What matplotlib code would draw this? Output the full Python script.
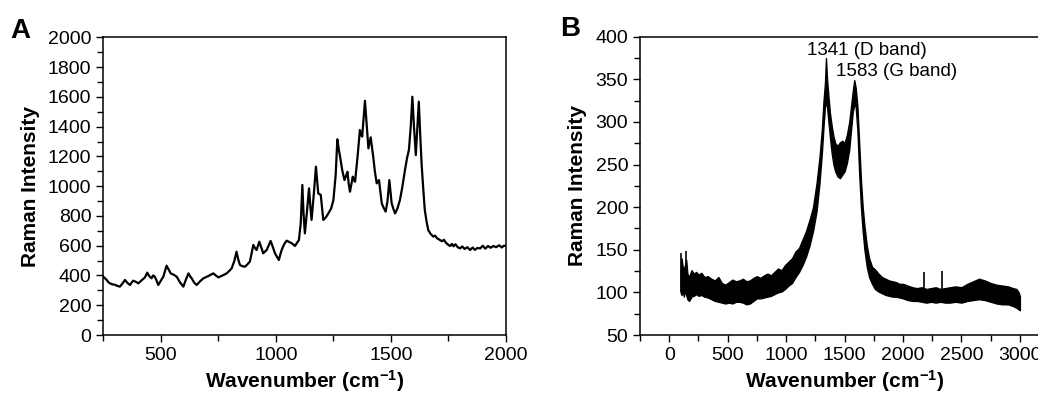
import matplotlib.pyplot as plt
from matplotlib.ticker import MultipleLocator

plt.rcParams['font.family'] = ['Liberation Sans', 'DejaVu Sans']
plt.rcParams['mathtext.fontset'] = 'custom'
plt.rcParams['mathtext.rm'] = 'Liberation Sans'
plt.rcParams['mathtext.bf'] = 'Liberation Sans:bold'

# Panel A: spectrum values
wn_a = [250, 258, 265, 272, 279, 290, 300, 311, 322, 333, 344, 355, 366, 373, 380,
        391, 402, 416, 431, 441, 450, 460, 466, 472, 480, 489, 500, 511,
        525, 534, 543, 556, 569, 584, 598, 609, 620, 627, 634, 645, 656, 670, 685,
        695, 706, 717, 728, 739, 750, 768, 786, 797, 808, 820, 829, 836, 844,
        855, 866, 877, 887, 895, 902, 909, 916, 922, 928, 936, 945, 952, 960, 968, 977,
        987, 996, 1005, 1013, 1019, 1025, 1036, 1047, 1058, 1069, 1076, 1083,
        1092, 1100, 1108, 1115, 1120, 1126, 1135, 1144, 1150, 1155, 1165, 1174, 1184, 1195,
        1206, 1217, 1228, 1240, 1250, 1260, 1267,
        1273, 1279, 1288, 1298, 1305, 1311, 1316, 1322, 1328, 1334, 1339, 1344, 1355, 1365,
        1370, 1375, 1381, 1387, 1395, 1402, 1407, 1412, 1418, 1423,
        1430, 1438, 1443, 1448, 1454, 1460, 1468, 1477, 1485, 1493, 1498, 1503, 1510, 1518,
        1528, 1539, 1550, 1561, 1570, 1578, 1586, 1593, 1600, 1608,
        1614, 1621, 1627, 1633, 1640, 1647, 1655, 1662, 1672, 1684, 1692, 1700, 1706, 1713,
        1722, 1730, 1740, 1750, 1757, 1765, 1772, 1780, 1790, 1800, 1810, 1820, 1832,
        1844, 1855, 1865, 1876, 1888, 1899, 1910, 1922, 1933, 1945, 1957, 1970, 1982, 1990, 2000]
int_a = [392, 380, 370, 355, 347, 340, 338, 330, 325, 345, 370, 350, 336, 352, 365,
         358, 347, 366, 387, 419, 395, 381, 400, 396, 372, 336, 365, 392,
         466, 440, 414, 405, 392, 352, 325, 372, 414, 395, 381, 352, 336, 360, 381,
         388, 396, 405, 414, 400, 387, 400, 414, 430, 448, 500, 560, 510, 470,
         462, 459, 476, 493, 552, 605, 585, 571, 600, 627, 590, 549, 560, 571, 600, 632,
         590, 549, 525, 504, 540, 571, 610, 634, 625, 616, 608, 598,
         620, 638, 750, 1008, 820, 683, 830, 985, 860, 773, 950, 1131, 952, 941,
         773, 790, 817, 850, 907, 1080, 1315,
         1250, 1198, 1110, 1041, 1070, 1097, 1020, 963, 1015, 1064, 1040, 1030, 1200, 1377,
         1345, 1333, 1450, 1574, 1400, 1254, 1290, 1328, 1260, 1198,
         1100, 1019, 1030, 1041, 960, 885, 855, 829, 900, 1041, 960, 885, 850, 817,
         850, 907, 1000, 1109, 1190, 1243, 1400, 1601, 1400, 1209,
         1380, 1568, 1350, 1153, 990, 840, 760, 705, 680, 661, 668, 650, 645, 638,
         630, 640, 618, 605, 598, 612, 596, 610, 590, 582, 595, 578, 590,
         571, 588, 572, 585, 582, 600, 580, 598, 586, 598, 590, 603, 588, 600, 598]

# Panel B: noisy carbon spectrum, given as lower / upper edge of the band
wn_b = [97, 105, 115, 125, 135, 145, 155, 170, 190, 210, 230, 250, 275, 300, 330,
        360, 390, 420, 450, 480, 510, 540, 570, 600, 630, 660, 690, 720, 750, 780,
        810, 840, 870, 900, 930, 960, 990, 1020, 1050, 1080, 1110, 1140, 1170, 1200,
        1230, 1260, 1285, 1305, 1320, 1332, 1341, 1350, 1362, 1375, 1390, 1405, 1420,
        1440, 1460, 1480, 1500, 1520, 1540, 1555, 1570, 1583, 1595, 1610, 1625, 1640,
        1655, 1670, 1690, 1710, 1735, 1760, 1790, 1820, 1850, 1880, 1910, 1940, 1970,
        2000, 2040, 2080, 2120, 2160, 2200, 2240, 2280, 2320, 2360, 2400, 2450, 2500,
        2550, 2600, 2650, 2700, 2750, 2800, 2850, 2900, 2940, 2970, 2990, 3000]
low_b = [100, 97, 102, 95, 103, 97, 92, 90, 95, 96, 98, 96, 97, 95, 94,
         92, 90, 89, 88, 87, 88, 87, 89, 89, 88, 86, 87, 90, 93, 93,
         94, 95, 96, 98, 100, 101, 104, 108, 111, 118, 124, 132, 142, 155,
         172, 195, 228, 262, 295, 318, 322, 318, 300, 282, 263, 250, 242,
         236, 234, 238, 242, 252, 268, 290, 312, 320, 318, 290, 240, 200,
         172, 150, 130, 118, 110, 104, 101, 99, 97, 96, 95, 95, 94,
         93, 91, 90, 90, 89, 88, 89, 88, 89, 88, 88, 89, 88,
         90, 91, 92, 91, 89, 87, 86, 86, 84, 82, 80, 79]
high_b = [125, 140, 130, 128, 132, 138, 122, 118, 126, 122, 124, 121, 123, 118, 119,
          116, 114, 118, 111, 109, 112, 115, 113, 114, 116, 113, 114, 117, 119, 117,
          120, 122, 120, 124, 128, 126, 132, 136, 140, 148, 152, 162, 172, 185,
          200, 228, 258, 290, 325, 345, 375, 350, 330, 310, 295, 283, 275,
          272, 276, 278, 275, 285, 300, 318, 336, 349, 340, 318, 275, 232,
          200, 178, 155, 140, 130, 127, 122, 118, 116, 114, 113, 112, 110,
          110, 108, 106, 105, 106, 104, 105, 106, 104, 105, 106, 107, 106,
          110, 113, 116, 114, 111, 109, 108, 107, 105, 104, 100, 95]
spike_x = [100, 140, 2180, 2330]
spike_lo = [100, 105, 100, 100]
spike_hi = [146, 149, 124, 125]

fig = plt.figure(figsize=(10.38, 3.99), dpi=100)

axA = fig.add_axes([0.0995, 0.1604, 0.388, 0.746])
axB = fig.add_axes([0.6166, 0.1604, 0.3941, 0.7476])

axA.plot(wn_a, int_a, color='black', lw=1.6)
axA.set_xlim(250, 2000)
axA.set_ylim(0, 2000)
axA.xaxis.set_major_locator(MultipleLocator(500))
axA.xaxis.set_minor_locator(MultipleLocator(250))
axA.yaxis.set_major_locator(MultipleLocator(200))
axA.yaxis.set_minor_locator(MultipleLocator(100))

axB.fill_between(wn_b, low_b, high_b, color='black', lw=1)
axB.vlines(spike_x, spike_lo, spike_hi, color='black', lw=1.2)
axB.set_xlim(-250, 3250)
axB.set_ylim(50, 400)
axB.xaxis.set_major_locator(MultipleLocator(500))
axB.xaxis.set_minor_locator(MultipleLocator(250))
axB.yaxis.set_major_locator(MultipleLocator(50))
axB.yaxis.set_minor_locator(MultipleLocator(25))
axB.text(1695, 384, '1341 (D band)', fontsize=13.5, ha='center', va='center')
axB.text(1945, 359, '1583 (G band)', fontsize=13.5, ha='center', va='center')

for ax in (axA, axB):
    for s in ax.spines.values():
        s.set_linewidth(1.1)
    ax.tick_params(which='both', direction='out', top=False, right=False,
                   labelsize=14, width=1.0)
    ax.tick_params(which='major', length=5)
    ax.tick_params(which='minor', length=4)
    ax.set_xlabel(r'Wavenumber (cm$\mathbf{^{-1}}$)', fontsize=15, fontweight='bold', labelpad=3)
    ax.set_ylabel('Raman Intensity', fontsize=15, fontweight='bold', labelpad=6)

fig.text(0.010, 0.955, 'A', fontsize=20, fontweight='bold', va='top')
fig.text(0.540, 0.960, 'B', fontsize=20, fontweight='bold', va='top')

fig.savefig('out.png', dpi=100)
